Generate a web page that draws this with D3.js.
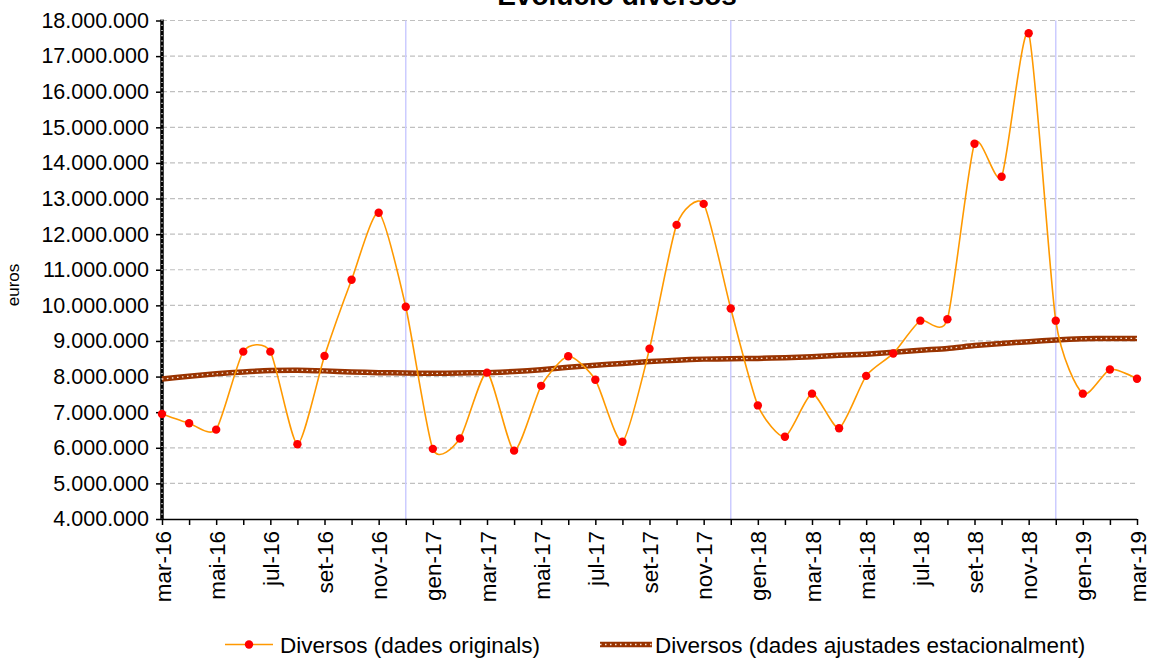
<!DOCTYPE html>
<html>
<head>
<meta charset="utf-8">
<script src="https://cdn.jsdelivr.net/npm/d3@7"></script>
<style>
  body { margin: 0; background: #fff; }
  svg { display: block; font-family: "Liberation Sans", Arial, sans-serif; }
</style>
</head>
<body>
<svg id="chart" width="1151" height="659"></svg>
<script>
const months = [
  "mar-16", "abr-16", "mai-16", "jun-16", "jul-16", "ago-16", "set-16", "oct-16", "nov-16", "des-16",
  "gen-17", "feb-17", "mar-17", "abr-17", "mai-17", "jun-17", "jul-17", "ago-17", "set-17", "oct-17", "nov-17", "des-17",
  "gen-18", "feb-18", "mar-18", "abr-18", "mai-18", "jun-18", "jul-18", "ago-18", "set-18", "oct-18", "nov-18", "des-18",
  "gen-19", "feb-19", "mar-19",
];
const original = [
  6950000, 6690000, 6510000, 8700000, 8700000, 6100000, 8580000, 10720000, 12600000, 9960000,
  5970000, 6260000, 8110000, 5920000, 7740000, 8570000, 7910000, 6170000, 8780000, 12260000, 12850000, 9910000,
  7190000, 6310000, 7520000, 6550000, 8020000, 8650000, 9570000, 9610000, 14540000, 13610000, 17640000, 9570000,
  7520000, 8200000, 7940000,
];
const adjusted = [
  7930000, 8010000, 8080000, 8130000, 8170000, 8180000, 8160000, 8130000, 8110000, 8100000,
  8090000, 8100000, 8110000, 8140000, 8190000, 8260000, 8320000, 8370000, 8420000, 8460000, 8490000, 8500000,
  8510000, 8530000, 8560000, 8600000, 8630000, 8680000, 8740000, 8790000, 8870000, 8930000, 8980000, 9030000,
  9060000, 9070000, 9070000,
];
const yTicks = d3.range(4000000, 18000001, 1000000);
const yearMarks = ["des-16", "des-17", "des-18"];
const seriesNames = ["Diversos (dades originals)", "Diversos (dades ajustades estacionalment)"];

const svg = d3.select("#chart");
const plotLeft = 162, plotRight = 1137, plotTop = 20.5, plotBottom = 519;

const x = d3.scalePoint().domain(months).range([plotLeft, plotRight]);
const y = d3.scaleLinear().domain([4000000, 18000000]).range([plotBottom, plotTop]);

const fmt = d3.formatLocale({ decimal: ",", thousands: ".", grouping: [3], currency: ["", "€"] }).format(",.0f");

// title (partly cut off at the top, as in the original)
svg.append("text")
  .attr("x", 617).attr("y", 5)
  .attr("text-anchor", "middle")
  .style("font-size", "28px").style("font-weight", "bold")
  .text("Evolució diversos");

// grid lines
svg.append("g")
  .selectAll("line")
  .data(yTicks.filter((d) => d > 4000000))
  .join("line")
  .attr("x1", plotLeft).attr("x2", plotRight)
  .attr("y1", (d) => y(d)).attr("y2", (d) => y(d))
  .attr("stroke", "#c0c0c0").attr("stroke-width", 1.2)
  .attr("stroke-dasharray", "5,3");

// year separators
svg.append("g")
  .selectAll("line")
  .data(yearMarks)
  .join("line")
  .attr("x1", (d) => x(d)).attr("x2", (d) => x(d))
  .attr("y1", plotTop).attr("y2", plotBottom)
  .attr("stroke", "#ccccff").attr("stroke-width", 1.5);

// y axis
const yAxis = svg.append("g")
  .attr("transform", `translate(${plotLeft},0)`)
  .call(d3.axisLeft(y).tickValues(yTicks).tickFormat(fmt).tickSize(6).tickPadding(7));
yAxis.select(".domain").remove();
yAxis.selectAll(".tick line").attr("stroke", "#000").attr("stroke-width", 1.5);
yAxis.selectAll(".tick text")
  .style("font-size", "21.5px").attr("fill", "#000")
  .attr("font-family", "Liberation Sans, Arial, sans-serif");
yAxis.append("line")
  .attr("y1", plotTop - 1).attr("y2", plotBottom)
  .attr("stroke", "#000").attr("stroke-width", 3.5);
yAxis.append("line")
  .attr("y1", plotTop - 1).attr("y2", plotBottom)
  .attr("stroke", "#fff").attr("stroke-width", 1.2)
  .attr("stroke-dasharray", "1.2,4");

// x axis
const xAxis = svg.append("g")
  .attr("transform", `translate(0,${plotBottom})`)
  .call(d3.axisBottom(x).tickSize(6).tickFormat((d, i) => (i % 2 === 0 ? d : "")));
xAxis.select(".domain").attr("stroke", "#000").attr("stroke-width", 1.5).attr("d", `M${plotLeft},0.5H${plotRight}`);
xAxis.selectAll(".tick line").attr("stroke", "#000").attr("stroke-width", 1.5);
xAxis.selectAll(".tick text")
  .style("font-size", "22.5px").attr("fill", "#000")
  .attr("font-family", "Liberation Sans, Arial, sans-serif")
  .attr("text-anchor", "end")
  .attr("transform", "rotate(-90)")
  .attr("x", -12).attr("y", 0).attr("dy", "0.36em");

// y axis title
svg.append("text")
  .attr("transform", "translate(19,285) rotate(-90)")
  .attr("text-anchor", "middle")
  .style("font-size", "17px")
  .text("euros");

const curve = d3.curveCardinal.tension(0.35);

// seasonally adjusted series
const adjLine = d3.line().x((d, i) => x(months[i])).y((d) => y(d)).curve(curve);
svg.append("path").datum(adjusted)
  .attr("d", adjLine).attr("fill", "none")
  .attr("stroke", "#993300").attr("stroke-width", 5.5);
svg.append("path").datum(adjusted)
  .attr("d", adjLine).attr("fill", "none")
  .attr("stroke", "#f5e6dc").attr("stroke-width", 1.3)
  .attr("stroke-dasharray", "1.5,3.5");

// original series
const origLine = d3.line().x((d, i) => x(months[i])).y((d) => y(d)).curve(curve);
svg.append("path").datum(original)
  .attr("d", origLine).attr("fill", "none")
  .attr("stroke", "#ff9900").attr("stroke-width", 1.6);
svg.append("g")
  .selectAll("circle")
  .data(original)
  .join("circle")
  .attr("cx", (d, i) => x(months[i])).attr("cy", (d) => y(d))
  .attr("r", 4.2).attr("fill", "#ff0000");

// legend
const lg = svg.append("g");
lg.append("line").attr("x1", 225).attr("x2", 273).attr("y1", 644.5).attr("y2", 644.5)
  .attr("stroke", "#ff9900").attr("stroke-width", 1.6);
lg.append("circle").attr("cx", 249).attr("cy", 644.5).attr("r", 4.2).attr("fill", "#ff0000");
lg.append("text").attr("x", 280).attr("y", 653).style("font-size", "22.5px").text(seriesNames[0]);
lg.append("line").attr("x1", 600).attr("x2", 652).attr("y1", 644.5).attr("y2", 644.5)
  .attr("stroke", "#993300").attr("stroke-width", 5.5);
lg.append("line").attr("x1", 600).attr("x2", 652).attr("y1", 644.5).attr("y2", 644.5)
  .attr("stroke", "#f5e6dc").attr("stroke-width", 1.3).attr("stroke-dasharray", "1.5,3.5");
lg.append("text").attr("x", 655).attr("y", 653).style("font-size", "22.5px").text(seriesNames[1]);
</script>
</body>
</html>
